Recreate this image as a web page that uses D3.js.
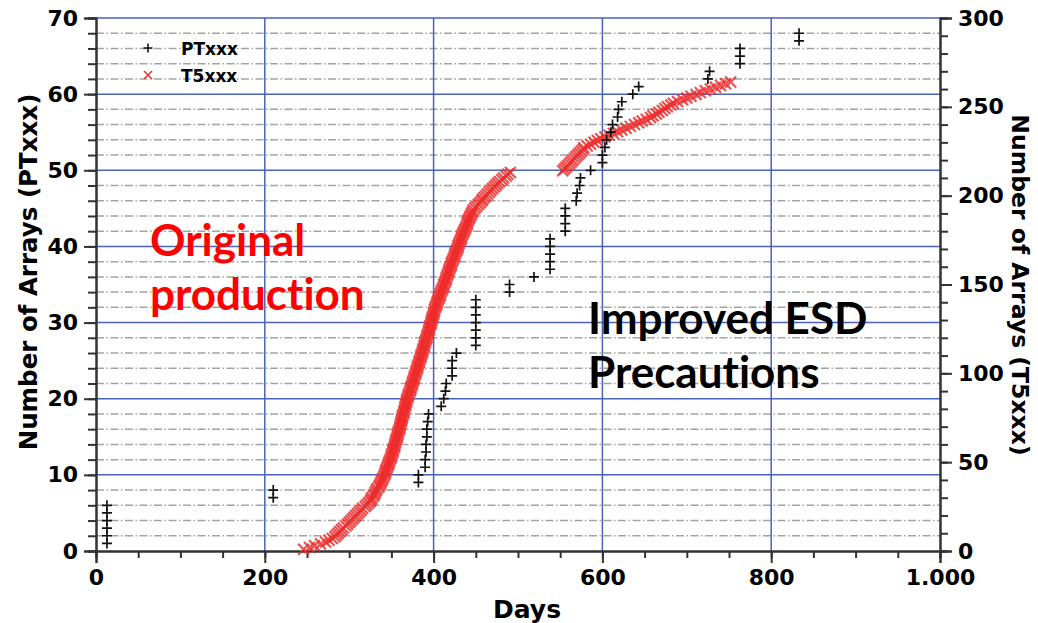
<!DOCTYPE html>
<html>
<head>
<meta charset="utf-8">
<script src="https://cdn.jsdelivr.net/npm/d3@7"></script>
<style>
  body { margin: 0; background: #fff; }
  svg text { font-family: "DejaVu Sans", sans-serif; font-weight: bold; }
  .note { font-family: Lato, "Open Sans", sans-serif; font-weight: bold; font-variant-ligatures: none; }
</style>
</head>
<body>
<svg id="chart" width="1038" height="623"></svg>
<script>
// PTxxx (left axis): day at which each array was finished, count = index + 1
const ptDays = [
  13, 13, 13, 13, 13, 13,
  210, 210,
  382, 382,
  390, 390, 391, 391, 392, 392, 393, 394,
  409, 412, 414, 415,
  422, 422, 422, 427,
  450, 450, 450, 450, 450, 450, 450,
  490, 490,
  519,
  538, 538, 538, 538, 538,
  556, 556, 556, 556,
  569, 570, 573, 574,
  586,
  600, 600, 603, 605, 610, 612, 618, 619, 623, 636, 643,
  725, 727,
  763, 763, 763,
  833, 833
];

// T5xxx (right axis): day for each array, count = index + 1
const t5Days = [
  246, 253, 259, 266, 272, 276, 280, 283, 285, 287,
  289, 291, 293, 296, 298, 300, 302, 304, 306, 308,
  310, 312, 314, 316, 319, 321, 323, 325, 326, 327,
  329, 330, 331, 332, 333, 335, 336, 337, 338, 339,
  340, 341, 342, 343, 343, 344, 345, 346, 347, 347,
  348, 349, 350, 350, 351, 352, 352, 353, 354, 354,
  355, 355, 356, 357, 357, 358, 358, 359, 360, 360,
  361, 361, 362, 362, 363, 363, 364, 365, 365, 366,
  366, 367, 367, 368, 368, 369, 370, 370, 371, 372,
  373, 373, 374, 375, 375, 376, 377, 377, 378, 379,
  379, 380, 381, 381, 382, 383, 383, 384, 385, 385,
  386, 387, 387, 388, 389, 389, 390, 390, 391, 392,
  392, 393, 394, 394, 395, 395, 396, 397, 397, 398,
  398, 399, 400, 400, 401, 401, 402, 403, 404, 404,
  405, 406, 407, 408, 408, 409, 410, 411, 412, 412,
  413, 414, 415, 415, 416, 417, 418, 418, 419, 420,
  421, 421, 422, 423, 424, 425, 425, 426, 427, 428,
  429, 429, 430, 431, 432, 433, 433, 434, 435, 436,
  437, 438, 439, 440, 440, 441, 442, 443, 444, 445,
  446, 447, 449, 451, 453, 455, 457, 458, 460, 462,
  464, 466, 468, 470, 472, 474, 476, 478, 481, 483,
  486, 488, 491,
  553, 555, 557, 559, 561, 563, 565, 567, 569, 571,
  573, 575, 577, 578, 582, 586, 590, 594, 598, 603,
  608, 613, 618, 623, 628, 633, 638, 643, 647, 652,
  657, 660, 664, 667, 671, 674, 677, 681, 684, 689,
  695, 700, 705, 711, 716, 722, 728, 734, 740, 746,
  752
];

const xTicks = [0, 200, 400, 600, 800, 1000];
const leftTicks = [0, 10, 20, 30, 40, 50, 60, 70];
const rightTicks = [0, 50, 100, 150, 200, 250, 300];

const svg = d3.select("#chart");
const plotLeft = 96, plotRight = 940, plotTop = 18, plotBottom = 551;

const x = d3.scaleLinear().domain([0, 1000]).range([plotLeft, plotRight]);
const yL = d3.scaleLinear().domain([0, 70]).range([plotBottom, plotTop]);
const yR = d3.scaleLinear().domain([0, 300]).range([plotBottom, plotTop]);

const fmt = d3.formatLocale({ decimal: ",", thousands: ".", grouping: [3], currency: ["", ""] }).format(",");

// grid: dash-dot at minor left ticks, blue at majors
const minorL = d3.range(0, 71, 2).filter((v) => v % 10 !== 0);
svg.append("g").selectAll("line").data(minorL).join("line")
  .attr("x1", plotLeft).attr("x2", plotRight)
  .attr("y1", (d) => yL(d)).attr("y2", (d) => yL(d))
  .attr("stroke", "#a3a3a3").attr("stroke-width", 1.5)
  .attr("stroke-dasharray", "8,2.5,1.5,2.5");

svg.append("g").selectAll("line").data(leftTicks.slice(1)).join("line")
  .attr("x1", plotLeft).attr("x2", plotRight)
  .attr("y1", (d) => yL(d)).attr("y2", (d) => yL(d))
  .attr("stroke", "#4a62b8").attr("stroke-width", 1.5);

svg.append("g").selectAll("line").data(xTicks.slice(1, -1)).join("line")
  .attr("x1", (d) => x(d)).attr("x2", (d) => x(d))
  .attr("y1", plotTop).attr("y2", plotBottom)
  .attr("stroke", "#4a62b8").attr("stroke-width", 1.5);

// axes
function styleAxis(g) {
  g.select(".domain").attr("stroke", "#333").attr("stroke-width", 2);
  g.selectAll(".tick line").attr("stroke", "#333").attr("stroke-width", 2);
  g.selectAll("text").attr("font-size", 22).attr("fill", "#000");
}

svg.append("g").attr("transform", `translate(0,${plotBottom})`)
  .call(d3.axisBottom(x).tickValues(d3.range(0, 1001, 50)).tickSize(7).tickFormat(""))
  .call(styleAxis);
svg.append("g").attr("transform", `translate(0,${plotBottom})`)
  .call(d3.axisBottom(x).tickValues(xTicks).tickSize(12).tickPadding(6).tickFormat(fmt))
  .call(styleAxis);

svg.append("g").attr("transform", `translate(${plotLeft},0)`)
  .call(d3.axisLeft(yL).tickValues(d3.range(0, 71, 2)).tickSize(8).tickFormat(""))
  .call(styleAxis);
svg.append("g").attr("transform", `translate(${plotLeft},0)`)
  .call(d3.axisLeft(yL).tickValues(leftTicks).tickSize(12).tickPadding(6))
  .call(styleAxis);

svg.append("g").attr("transform", `translate(${plotRight},0)`)
  .call(d3.axisRight(yR).tickValues(d3.range(0, 301, 10)).tickSize(8).tickFormat(""))
  .call(styleAxis);
svg.append("g").attr("transform", `translate(${plotRight},0)`)
  .call(d3.axisRight(yR).tickValues(rightTicks).tickSize(12).tickPadding(6))
  .call(styleAxis);

// markers
const plus = (cx, cy, r) => `M${cx - r},${cy}H${cx + r}M${cx},${cy - r}V${cy + r}`;
const cross = (cx, cy, r) => `M${cx - r},${cy - r}L${cx + r},${cy + r}M${cx - r},${cy + r}L${cx + r},${cy - r}`;

svg.append("g").selectAll("path").data(t5Days).join("path")
  .attr("d", (d, i) => cross(x(d), yR(i + 1), 5.5))
  .attr("stroke", "#ee2c2c").attr("stroke-width", 2.1).attr("fill", "none")
  .attr("stroke-opacity", 0.85);

svg.append("g").selectAll("path").data(ptDays).join("path")
  .attr("d", (d, i) => plus(x(d), yL(i + 1), 5))
  .attr("stroke", "#111").attr("stroke-width", 1.7).attr("fill", "none");

// legend
svg.append("path").attr("d", plus(148, 48, 4.5)).attr("stroke", "#111").attr("stroke-width", 1.6);
svg.append("path").attr("d", cross(148, 75, 4)).attr("stroke", "#f03434").attr("stroke-width", 1.6);
svg.append("text").attr("x", 181).attr("y", 55).attr("font-size", 17).text("PTxxx");
svg.append("text").attr("x", 181).attr("y", 82).attr("font-size", 17).text("T5xxx");

// axis titles
svg.append("text").attr("x", 527).attr("y", 618)
  .attr("text-anchor", "middle").attr("font-size", 25).text("Days");
svg.append("text").attr("transform", "translate(37,272) rotate(-90)")
  .attr("text-anchor", "middle").attr("font-size", 24.5).text("Number of Arrays (PTxxx)");
svg.append("text").attr("transform", "translate(1012,285) rotate(90)")
  .attr("text-anchor", "middle").attr("font-size", 23.5).text("Number of Arrays (T5xxx)");

// annotations
svg.append("text").attr("class", "note").attr("x", 150).attr("y", 256)
  .attr("font-size", 44).attr("fill", "#ff0000").text("Original");
svg.append("text").attr("class", "note").attr("x", 150).attr("y", 310)
  .attr("font-size", 44).attr("fill", "#ff0000").text("production");
svg.append("text").attr("class", "note").attr("x", 588).attr("y", 334)
  .attr("font-size", 44).attr("fill", "#000").text("Improved ESD");
svg.append("text").attr("class", "note").attr("x", 588).attr("y", 388)
  .attr("font-size", 44).attr("fill", "#000").text("Precautions");
</script>
</body>
</html>
